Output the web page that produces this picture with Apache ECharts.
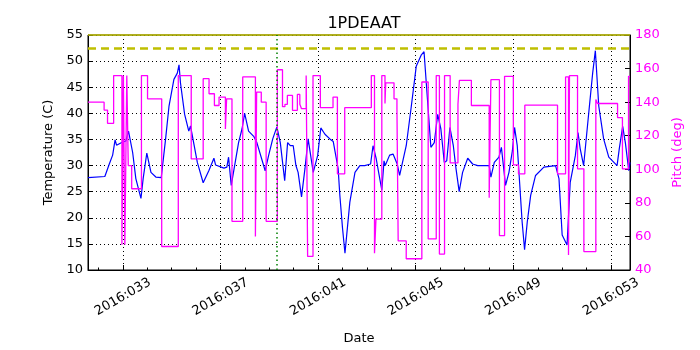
<!DOCTYPE html>
<html lang="en">
<head>
    <meta charset="UTF-8">
    <title>1PDEAAT</title>
    <script src="https://cdn.jsdelivr.net/npm/echarts@6/dist/echarts.min.js"></script>
    <style>
        html, body { margin: 0; padding: 0; background: #fff; }
        #container { width: 700px; height: 350px; }
    </style>
</head>
<body>
<div id="container"></div>

<script type="text/javascript">
    // temperature (blue, left axis) - day of year 2016
    var tempDays = [31.57, 32.26, 32.45, 32.58, 32.68, 32.74, 32.99, 33.12, 33.23, 33.40, 33.53, 33.74, 33.83, 33.98, 34.15, 34.35,
        34.57, 34.75, 34.89, 35.09, 35.23, 35.30, 35.36, 35.53, 35.70, 35.77, 36.05, 36.29, 36.52, 36.73, 36.80, 37.14,
        37.26, 37.33, 37.44, 37.74, 37.88, 37.99, 38.15, 38.36, 38.49, 38.83, 38.97, 39.14, 39.31, 39.45, 39.63, 39.75,
        39.86, 39.98, 40.09, 40.18, 40.32, 40.46, 40.59, 40.80, 40.98, 41.11, 41.28, 41.48, 41.62, 41.82, 41.89, 42.00,
        42.10, 42.30, 42.51, 42.71, 42.91, 43.15, 43.25, 43.38, 43.61, 43.70, 43.75, 43.93, 44.07, 44.24, 44.34, 44.61,
        44.82, 45.02, 45.23, 45.34, 45.50, 45.62, 45.76, 45.90, 46.03, 46.17, 46.27, 46.40, 46.54, 46.65, 46.78, 46.92,
        47.13, 47.33, 47.54, 48.01, 48.08, 48.22, 48.41, 48.51, 48.68, 48.82, 48.96, 49.05, 49.16, 49.36, 49.46, 49.57,
        49.71, 49.91, 50.25, 50.73, 50.87, 51.00, 51.20, 51.33, 51.54, 51.65, 51.74, 51.88, 52.09, 52.25, 52.36, 52.50,
        52.70, 52.91, 53.25, 53.34, 53.48, 53.59, 53.73, 53.78];
    var tempValues = [27.7, 27.9, 30.4, 32.0, 34.9, 33.9, 34.5, 34.7, 36.6, 32.5, 27.5, 23.7, 27.5, 32.4, 28.7, 27.8,
        27.7, 35.1, 41.4, 46.5, 47.7, 49.3, 45.8, 39.8, 36.6, 37.6, 30.6, 26.7, 29.0, 31.4, 30.1, 29.5,
        29.7, 31.6, 26.2, 34.4, 37.0, 40.0, 36.6, 35.6, 34.4, 29.0, 31.9, 35.1, 37.4, 34.4, 27.1, 34.4,
        33.8, 33.8, 30.0, 28.7, 24.0, 29.4, 35.1, 28.7, 31.9, 37.2, 36.0, 35.1, 34.6, 29.4, 24.3, 18.0,
        13.2, 23.0, 28.7, 30.0, 30.0, 30.3, 33.8, 31.3, 25.3, 30.9, 30.0, 32.0, 32.2, 30.3, 28.1, 33.8,
        41.4, 49.0, 51.2, 51.8, 41.4, 33.5, 34.4, 39.8, 37.0, 30.6, 30.9, 37.3, 33.8, 29.4, 25.0, 28.7,
        31.4, 30.3, 30.0, 30.0, 27.8, 30.6, 31.6, 33.5, 26.2, 28.7, 32.8, 37.3, 33.8, 19.2, 13.9, 19.2,
        24.3, 28.1, 29.7, 30.0, 27.5, 16.7, 14.8, 26.8, 31.9, 36.3, 33.2, 30.0, 40.1, 47.7, 52.0, 41.4,
        35.1, 31.6, 30.0, 33.2, 37.5, 34.4, 29.0, 30.6];

    // pitch (magenta, right axis) - value holds from each day until the next one
    var pitchDays = [31.57, 32.23, 32.37, 32.62, 32.96, 33.02, 33.08, 33.16, 33.22, 33.36, 33.76, 34.01, 34.59, 35.27, 35.80, 36.29,
        36.53, 36.75, 36.94, 37.20, 37.25, 37.47, 37.91, 38.43, 38.48, 38.67, 38.87, 39.33, 39.54, 39.64, 39.74, 39.95,
        40.15, 40.25, 40.32, 40.51, 40.57, 40.79, 41.09, 41.61, 41.79, 42.09, 43.18, 43.31, 43.37, 43.61, 43.74, 43.77,
        44.11, 44.23, 44.28, 44.61, 45.25, 45.51, 45.84, 45.97, 46.18, 46.41, 46.73, 46.79, 47.28, 48.01, 48.08, 48.43,
        48.64, 49.00, 49.21, 49.47, 50.81, 51.14, 51.26, 51.30, 51.63, 51.89, 52.38, 52.45, 53.27, 53.47, 53.72, 53.78];
    var pitchValues = [140, 135.3, 127.4, 155.8, 55, 155.8, 55, 155.8, 102.2, 88.4, 155.8, 142, 54, 155.8, 106.2, 154,
        145, 138, 143, 124, 142, 69, 155, 60, 146, 140, 69, 159.3, 137.3, 138.7, 144, 135.1,
        144.6, 138.7, 136.1, 155.8, 48.1, 155.8, 136.7, 143, 97.3, 136.7, 155.8, 50, 70.3, 155.8, 139.2, 151.5,
        142, 135.7, 57.3, 46.7, 152, 58.5, 155.8, 49.5, 155.8, 103.8, 138.7, 153, 138, 83, 153.4, 60.5,
        155.4, 102.6, 97.3, 138.2, 97.3, 155, 49, 155.8, 100.3, 51, 141.6, 139.2, 130.8, 100.3, 155.4, 155.4];

    // reference lines
    var limitTemp = 52.5;
    var markerDay = 39.31;

    // x ticks
    var xTickDays = [33, 37, 41, 45, 49, 53];
    var xTickLabels = ['2016:033', '2016:037', '2016:041', '2016:045', '2016:049', '2016:053'];
    var minorTickDays = [32, 33, 34, 35, 36, 37, 38, 39, 40, 41, 42, 43, 44, 45, 46, 47, 48, 49, 50, 51, 52, 53];

    var tempData = [];
    for (var i = 0; i < tempDays.length; i++) {
        tempData.push([tempDays[i], tempValues[i]]);
    }
    var pitchData = [];
    for (var j = 0; j < pitchDays.length; j++) {
        pitchData.push([pitchDays[j], pitchValues[j]]);
    }

    var font = 'DejaVu Sans';
    var dotted = {color: '#000', width: 1, type: [1, 3]};

    var myChart = echarts.init(document.getElementById('container'), null, {renderer: 'canvas'});

    var option = {
        animation: false,
        backgroundColor: '#fff',
        title: {
            text: '1PDEAAT',
            left: 359,
            top: 11,
            textAlign: 'center',
            textStyle: {fontFamily: font, fontSize: 16, fontWeight: 'normal', color: '#000'}
        },
        grid: {
            left: 88, right: 70, top: 35, bottom: 78,
            show: true, borderColor: '#000', borderWidth: 1
        },
        xAxis: [
            {
                type: 'value',
                min: 31.57,
                max: 53.78,
                position: 'bottom',
                name: 'Date',
                nameLocation: 'middle',
                nameGap: 62,
                nameTextStyle: {fontFamily: font, fontSize: 13, color: '#000'},
                axisLine: {show: true, lineStyle: {color: '#000', width: 1}},
                axisTick: {show: true, inside: true, length: 5, customValues: xTickDays, lineStyle: {color: '#000'}},
                axisLabel: {
                    customValues: xTickDays,
                    rotate: 30,
                    align: 'center',
                    verticalAlign: 'middle',
                    margin: 27,
                    fontFamily: font,
                    fontSize: 13,
                    color: '#000',
                    formatter: function (v) {
                        var k = xTickDays.indexOf(Math.round(v));
                        return k >= 0 ? xTickLabels[k] : '';
                    }
                },
                splitLine: {show: true, lineStyle: dotted}
            },
            {
                type: 'value',
                min: 31.57,
                max: 53.78,
                position: 'bottom',
                axisLine: {show: false},
                axisTick: {show: true, inside: true, length: 2.5, customValues: minorTickDays, lineStyle: {color: '#000'}},
                axisLabel: {show: false},
                splitLine: {show: false}
            }
        ],
        yAxis: [
            {
                type: 'value',
                min: 10,
                max: 55,
                interval: 5,
                position: 'left',
                name: 'Temperature (C)',
                nameLocation: 'middle',
                nameGap: 30,
                nameRotate: 90,
                nameTextStyle: {fontFamily: font, fontSize: 13, color: '#000'},
                axisLine: {show: true, lineStyle: {color: '#000', width: 1}},
                axisTick: {show: true, inside: true, length: 5, lineStyle: {color: '#000'}},
                axisLabel: {fontFamily: font, fontSize: 13, color: '#000', margin: 5},
                splitLine: {show: true, lineStyle: dotted}
            },
            {
                type: 'value',
                min: 40,
                max: 180,
                interval: 20,
                position: 'right',
                name: 'Pitch (deg)',
                nameLocation: 'middle',
                nameGap: 33,
                nameRotate: 90,
                nameTextStyle: {fontFamily: font, fontSize: 13, color: '#ff00ff'},
                axisLine: {show: true, lineStyle: {color: '#000', width: 1}},
                axisTick: {show: true, inside: true, length: 5, lineStyle: {color: '#000'}},
                axisLabel: {fontFamily: font, fontSize: 13, color: '#ff00ff', margin: 5},
                splitLine: {show: false}
            }
        ],
        series: [
            {
                name: 'Temperature',
                type: 'line',
                xAxisIndex: 0,
                yAxisIndex: 0,
                data: tempData,
                showSymbol: false,
                lineStyle: {color: '#0000ff', width: 1.2},
                markLine: {
                    silent: true,
                    symbol: 'none',
                    label: {show: false},
                    data: [
                        {yAxis: limitTemp, lineStyle: {color: '#bfbf00', width: 2.5, type: [8, 5]}},
                        {yAxis: 55, lineStyle: {color: '#bfbf00', width: 1.5, type: 'solid'}},
                        {xAxis: markerDay, lineStyle: {color: '#008000', width: 1.5, type: [1.5, 3]}}
                    ]
                }
            },
            {
                name: 'Pitch',
                type: 'line',
                xAxisIndex: 0,
                yAxisIndex: 1,
                step: 'end',
                data: pitchData,
                showSymbol: false,
                lineStyle: {color: '#ff00ff', width: 1.3}
            }
        ]
    };

    myChart.setOption(option);
    window.addEventListener('resize', myChart.resize);
</script>
</body>
</html>
